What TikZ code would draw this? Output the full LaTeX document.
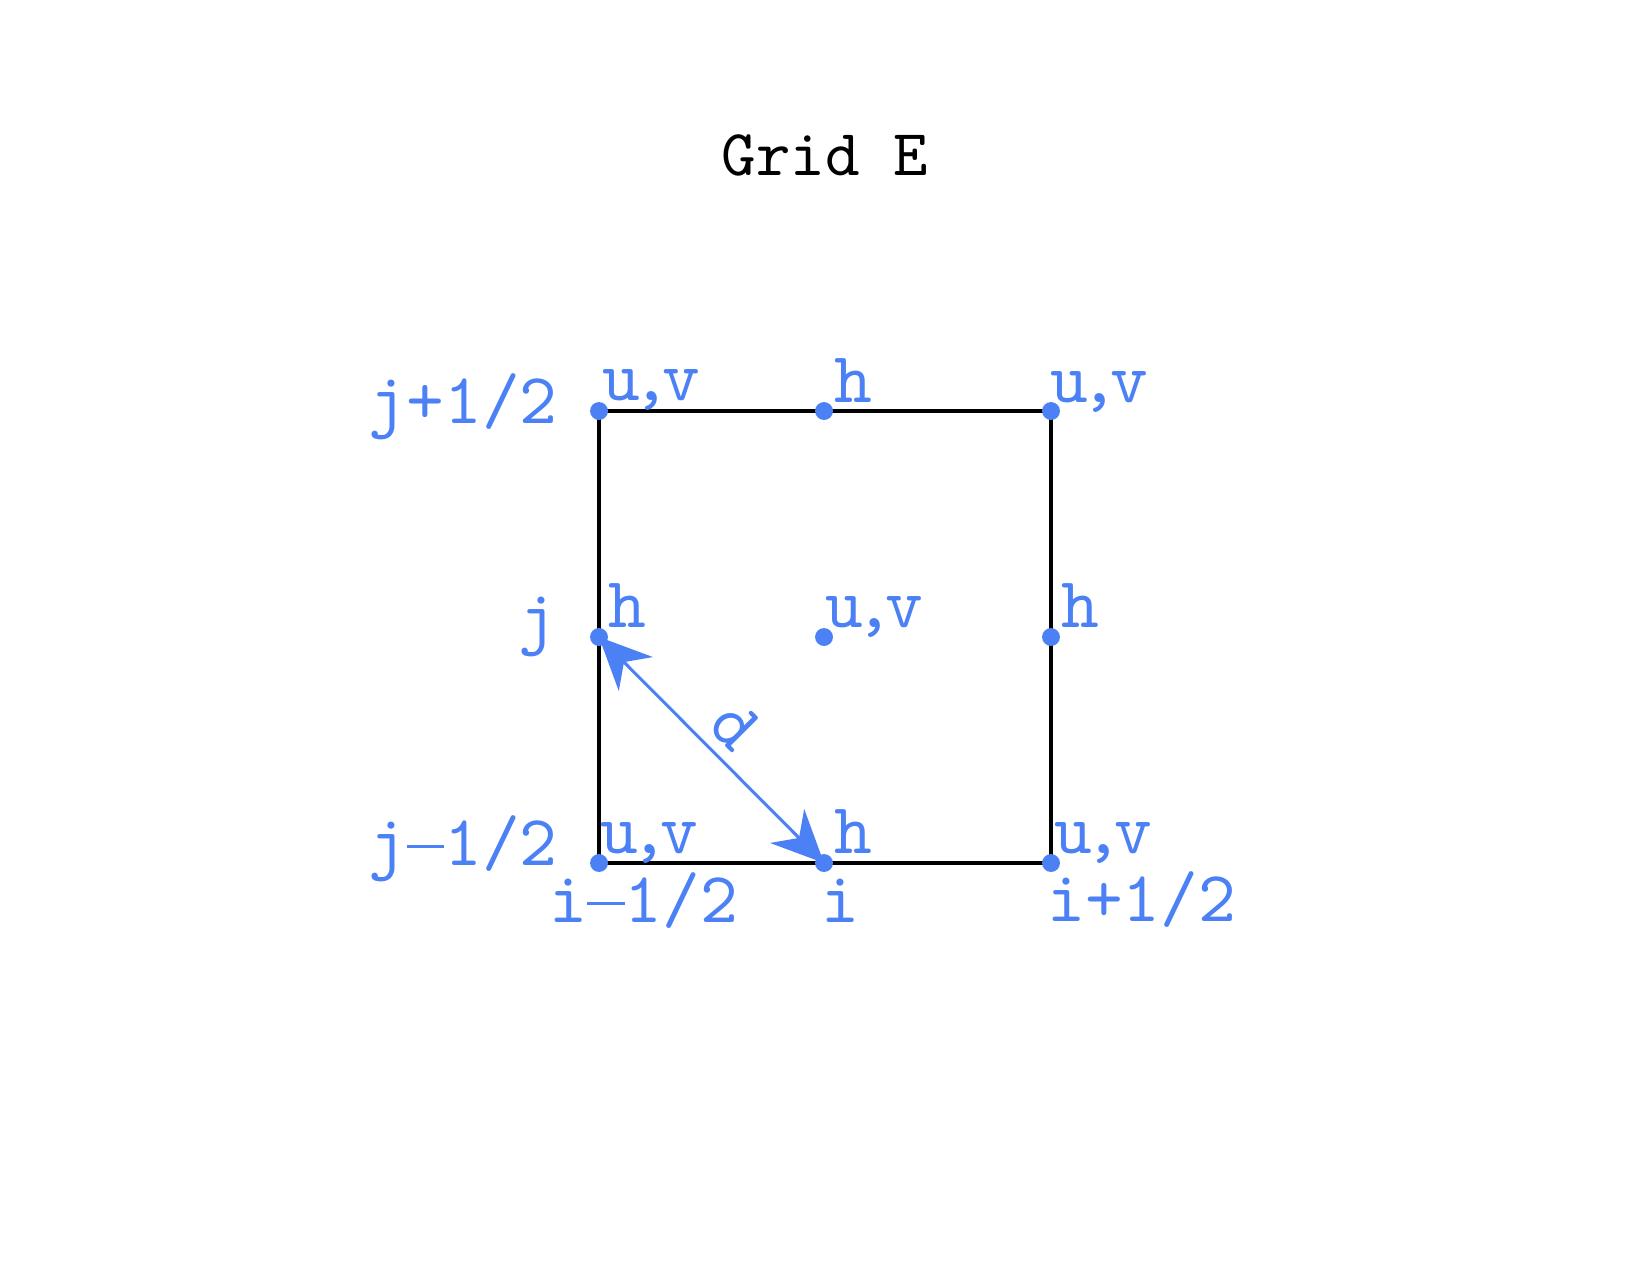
\documentclass[tikz,border=0pt]{standalone}
\usepackage{fontspec}
\usetikzlibrary{arrows.meta}
\newfontfamily\lmtt{lmmono10-regular.otf}
\definecolor{gblue}{RGB}{76,129,246}
\newcommand\tmin{\makebox[0.525em]{\rule[0.235em]{0.52em}{0.045em}}}
\newcommand\uvlab{u\kern-0.11em,\kern-0.11em v}
\tikzset{
  dot/.style={circle,fill=gblue,draw=none,minimum size=8.6pt,inner sep=0pt},
  lab/.style={text=gblue,inner sep=0pt,font=\lmtt\fontsize{34.5}{41}\selectfont},
  ttl/.style={text=black,inner sep=0pt,font=\lmtt\fontsize{31.5}{38}\selectfont},
  edge/.style={draw=black,line width=1.7pt},
  arr/.style={draw=gblue,line width=1.45pt,
    {Stealth[length=25pt,width=23pt,inset=8pt]}-{Stealth[length=25pt,width=23pt,inset=8pt]}}
}
\begin{document}
\begin{tikzpicture}[x=0.48pt,y=-0.48pt]
\useasboundingbox (0,0) rectangle (1650,1275);
% grid positions
\coordinate (pUL) at (599,411);
\coordinate (pUM) at (824,411);
\coordinate (pUR) at (1051,411);
\coordinate (pML) at (599,637);
\coordinate (pMM) at (824,637);
\coordinate (pMR) at (1051,637);
\coordinate (pLL) at (599,863);
\coordinate (pLM) at (824,863);
\coordinate (pLR) at (1051,863);
% cell outline
\draw[edge] (pLL) -- (pLR) -- (pUR) -- (pUL) -- cycle;
% points
\node[dot] (UL) at (pUL) {};
\node[dot] (UM) at (pUM) {};
\node[dot] (UR) at (pUR) {};
\node[dot] (ML) at (pML) {};
\node[dot] (MM) at (pMM) {};
\node[dot] (MR) at (pMR) {};
\node[dot] (LL) at (pLL) {};
\node[dot] (LM) at (pLM) {};
\node[dot] (LR) at (pLR) {};
% diagonal distance
\draw[arr] (ML.center) -- node[lab,sloped,above=5pt,anchor=south] (dlab) {d} (LM.center);
% title
\node[ttl,anchor=base] (title) at (825,175) {Grid E};
% variable labels
\node[lab,anchor=base west] (lUL) at (602,400) {\uvlab};
\node[lab,anchor=base west] (lUM) at (834,402) {h};
\node[lab,anchor=base west] (lUR) at (1050,402) {\uvlab};
\node[lab,anchor=base west] (lML) at (608,627) {h};
\node[lab,anchor=base west] (lMM) at (825,627) {\uvlab};
\node[lab,anchor=base west] (lMR) at (1061,627) {h};
\node[lab,anchor=base west] (lLL) at (600,853) {\uvlab};
\node[lab,anchor=base west] (lLM) at (834,853) {h};
\node[lab,anchor=base west] (lLR) at (1054,853) {\uvlab};
% index labels
\node[lab,anchor=base east] (jp) at (558,423) {j+1/2};
\node[lab,anchor=base east] (j0) at (557,640) {j};
\node[lab,anchor=base east] (jm) at (558,865) {j\tmin1/2};
\node[lab,anchor=base west] (im) at (549,922) {i\tmin1/2};
\node[lab,anchor=base west] (i0) at (821,922) {i};
\node[lab,anchor=base west] (ip) at (1047,921) {i+1/2};
\end{tikzpicture}
\end{document}
